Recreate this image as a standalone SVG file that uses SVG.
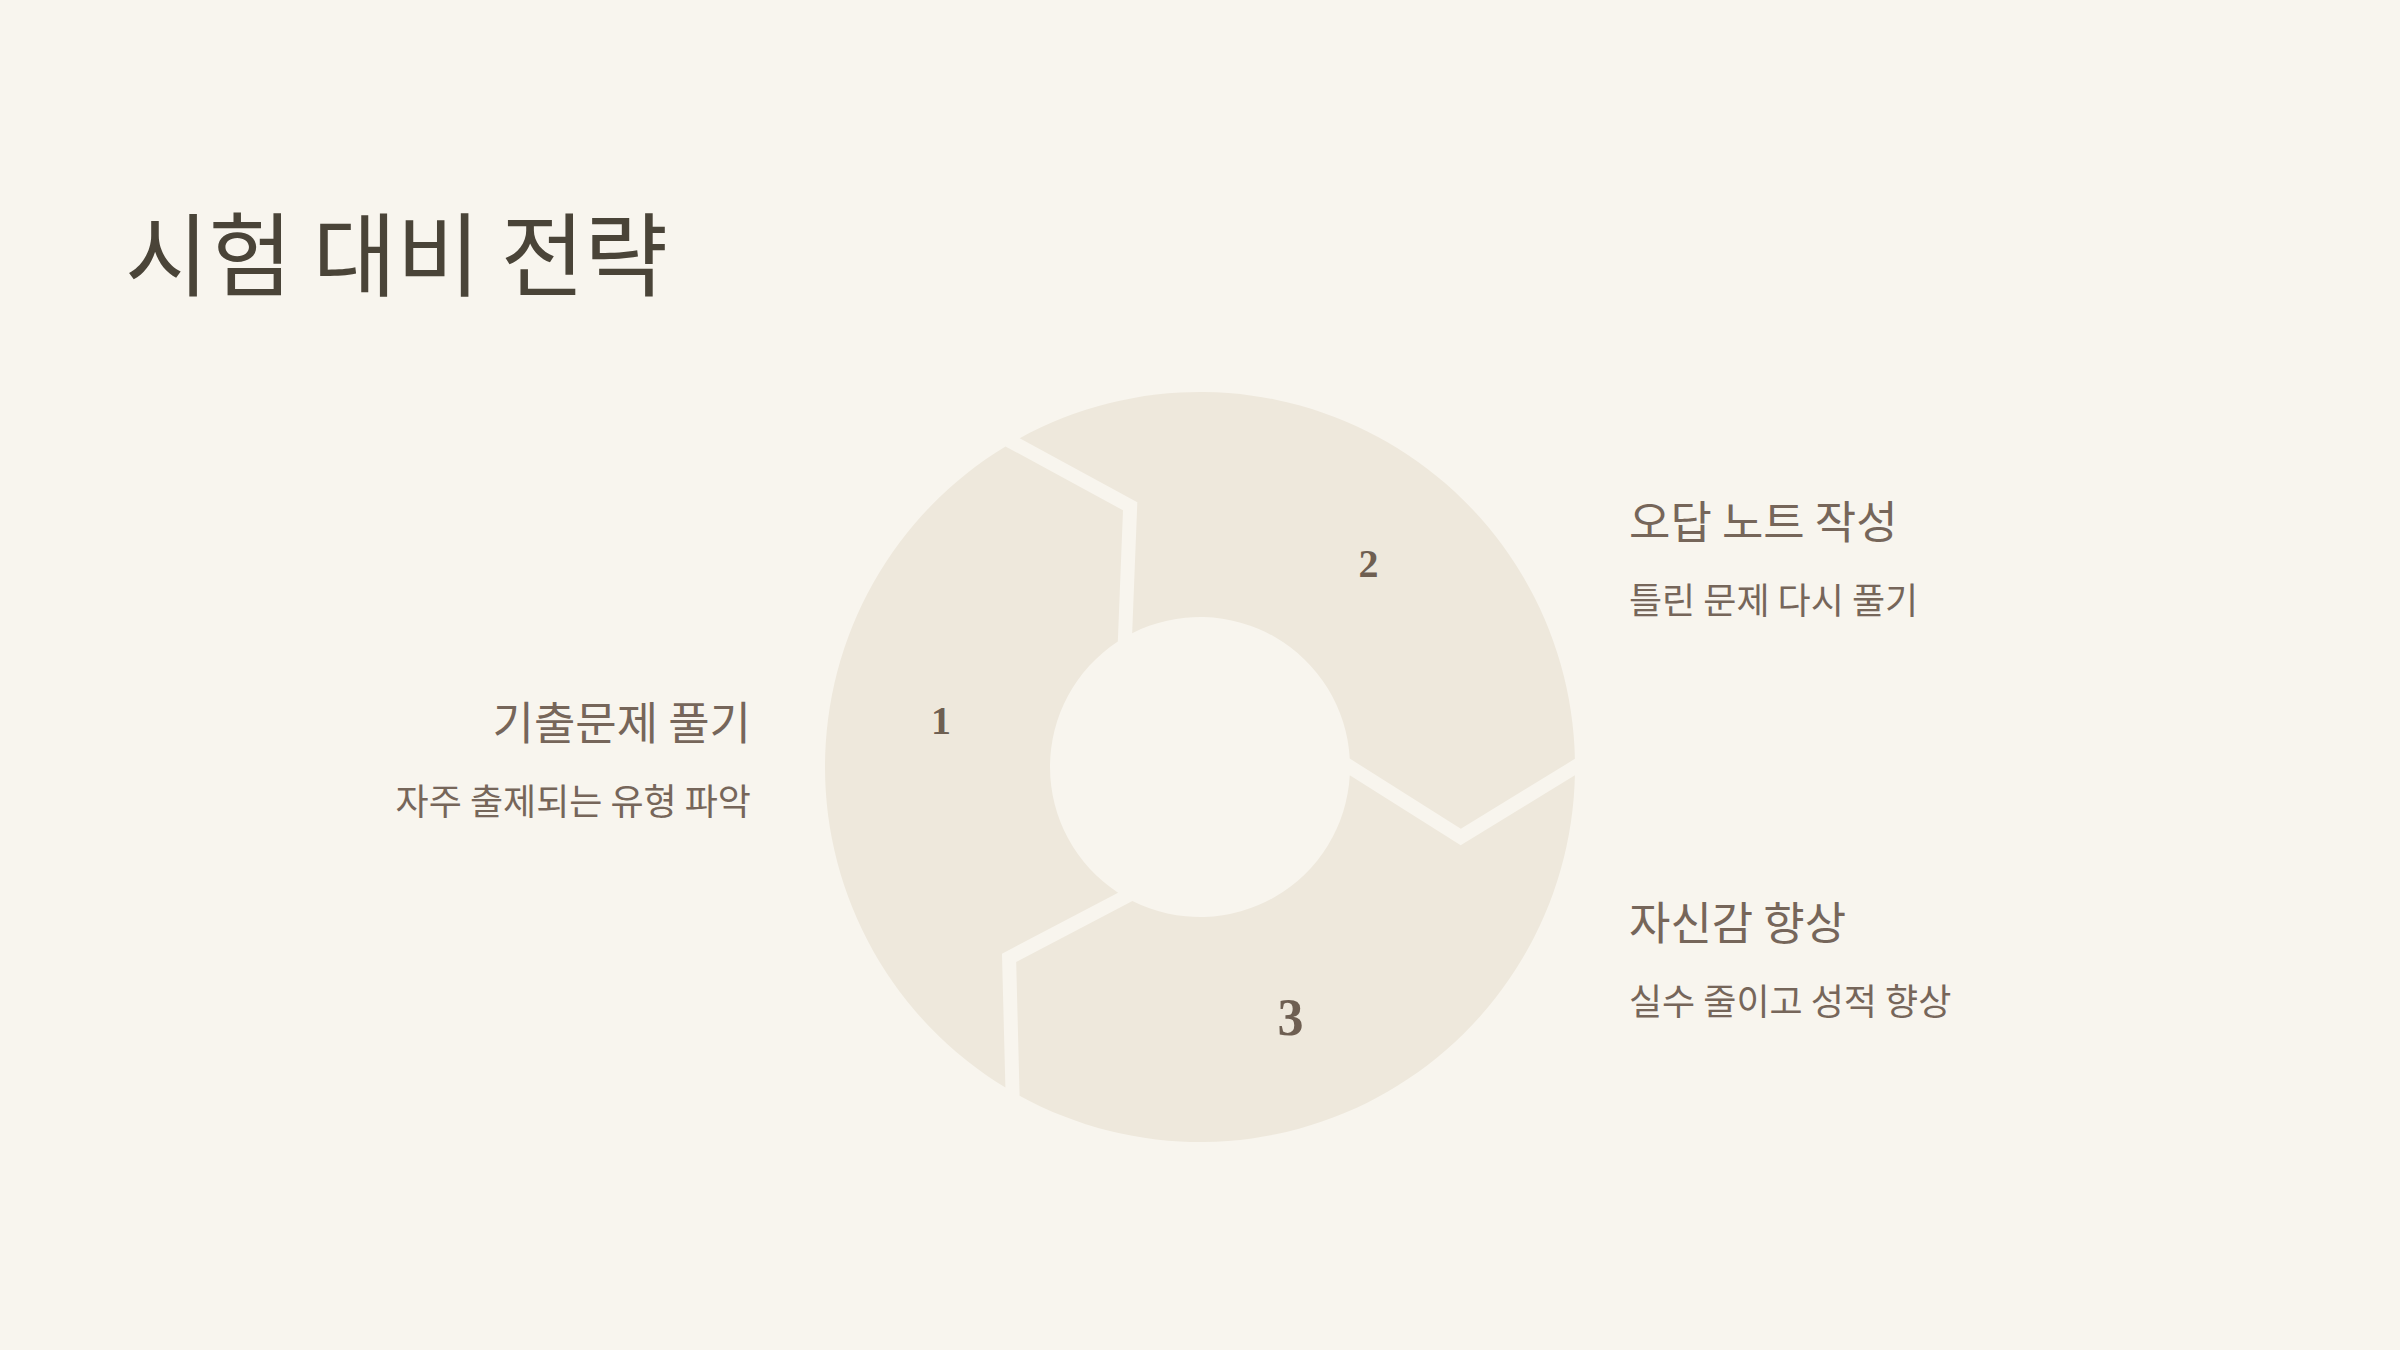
<svg xmlns="http://www.w3.org/2000/svg" width="2400" height="1350" viewBox="0 0 2400 1350">
<style>
.bg{fill:#F8F5EE}
.seg{fill:#EEE8DC}
.num{font-family:"Liberation Serif","DejaVu Serif",serif;font-weight:700;fill:#6E5F52;text-anchor:middle}
.title{font-family:"Noto Sans CJK KR","Noto Sans",sans-serif;font-size:91px;fill:#4A4438}
.head{font-family:"Noto Sans CJK KR","Noto Sans",sans-serif;font-size:45px;fill:#76665A}
.sub{font-family:"Noto Sans CJK KR","Noto Sans",sans-serif;font-size:36px;fill:#76665A}
</style>
<defs>
<path id="segShape" d="M374.91,8.26 A375,375 0 0 1 -180.40,328.76 L-183.82,195.04 L-67.58,133.91 A150,150 0 0 0 149.77,8.14 L260.70,78.15 Z"/>
</defs>
<rect class="bg" x="0" y="0" width="2400" height="1350"/>
<g id="title"><text class="title" x="125" y="289">시험 대비 전략</text></g>
<g id="step1">
<use href="#segShape" class="seg" transform="translate(1200,767) rotate(120)"/>
<text class="num" x="941" y="734" font-size="40">1</text>
<text class="head" x="751" y="740" text-anchor="end">기출문제 풀기</text>
<text class="sub" x="751" y="815" text-anchor="end">자주 출제되는 유형 파악</text>
</g>
<g id="step2">
<use href="#segShape" class="seg" transform="translate(1200,767) rotate(240)"/>
<text class="num" x="1368.5" y="577" font-size="40">2</text>
<text class="head" x="1629" y="539">오답 노트 작성</text>
<text class="sub" x="1629" y="614">틀린 문제 다시 풀기</text>
</g>
<g id="step3">
<use href="#segShape" class="seg" transform="translate(1200,767)"/>
<text class="num" x="1290.5" y="1035" font-size="52">3</text>
<text class="head" x="1629" y="940">자신감 향상</text>
<text class="sub" x="1629" y="1015">실수 줄이고 성적 향상</text>
</g>
<g id="connectors"></g>
</svg>
